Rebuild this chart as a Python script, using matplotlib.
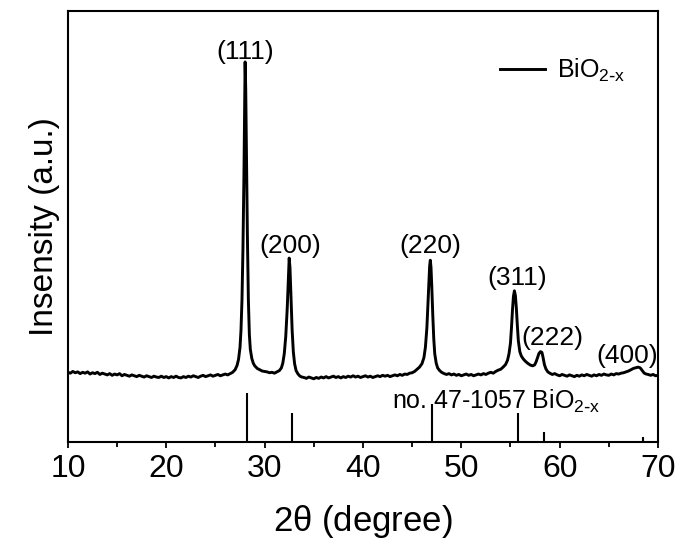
import matplotlib
matplotlib.use('Agg')
import matplotlib.pyplot as plt

# ------------------------- #
# Dados
# ------------------------- #

two_theta = [
    10.0, 10.25, 10.5, 10.75, 11.0, 11.25, 11.5, 11.75, 12.0, 12.25, 12.5, 12.75,
    13.0, 13.25, 13.5, 13.75, 14.0, 14.25, 14.5, 14.75, 15.0, 15.25, 15.5, 15.75,
    16.0, 16.25, 16.5, 16.75, 17.0, 17.25, 17.5, 17.75, 18.0, 18.25, 18.5, 18.75,
    19.0, 19.25, 19.5, 19.75, 20.0, 20.25, 20.5, 20.75, 21.0, 21.25, 21.5, 21.75,
    22.0, 22.25, 22.5, 22.75, 23.0, 23.25, 23.5, 23.75, 24.0, 24.25, 24.5, 24.75,
    25.0, 25.25, 25.5, 25.75, 26.0, 26.25, 26.5, 26.75,
    27.0, 27.2, 27.35, 27.5, 27.6, 27.7, 27.8, 27.9, 27.97, 28.02, 28.08, 28.15,
    28.25, 28.35, 28.45, 28.55, 28.7, 28.85, 29.0, 29.25, 29.5, 29.75, 30.0, 30.25,
    30.5, 30.75, 31.0, 31.25, 31.5, 31.7, 31.85, 32.0, 32.15, 32.3, 32.4, 32.5,
    32.58, 32.68, 32.8, 32.92, 33.05, 33.2, 33.4, 33.6, 33.8,
    34.0, 34.25, 34.5, 34.75, 35.0, 35.25, 35.5, 35.75, 36.0, 36.25, 36.5, 36.75,
    37.0, 37.25, 37.5, 37.75, 38.0, 38.25, 38.5, 38.75, 39.0, 39.25, 39.5, 39.75,
    40.0, 40.25, 40.5, 40.75, 41.0, 41.25, 41.5, 41.75, 42.0, 42.25, 42.5, 42.75,
    43.0, 43.25, 43.5, 43.75, 44.0, 44.25, 44.5, 44.75, 45.0, 45.25, 45.5,
    45.75, 46.0, 46.2, 46.35, 46.5, 46.6, 46.7, 46.78, 46.85, 46.92, 47.0, 47.1,
    47.2, 47.3, 47.45, 47.6, 47.8, 48.0, 48.25, 48.5, 48.75, 49.0, 49.25, 49.5,
    49.75, 50.0, 50.25, 50.5, 50.75, 51.0, 51.25, 51.5, 51.75, 52.0, 52.25, 52.5,
    52.75, 53.0, 53.25, 53.5, 53.75, 54.0, 54.25, 54.5, 54.7, 54.85, 55.0, 55.1,
    55.2, 55.3, 55.4, 55.5, 55.6, 55.7, 55.8, 55.95, 56.1, 56.3, 56.5, 56.75,
    57.0, 57.25, 57.45, 57.6, 57.75, 57.9, 58.05, 58.2, 58.3, 58.45, 58.6, 58.8,
    59.0, 59.25, 59.5, 59.75, 60.0, 60.25, 60.5, 60.75, 61.0, 61.25, 61.5, 61.75,
    62.0, 62.25, 62.5, 62.75, 63.0, 63.25, 63.5, 63.75, 64.0, 64.25, 64.5, 64.75,
    65.0, 65.25, 65.5, 65.75, 66.0, 66.25, 66.5, 66.75, 67.0, 67.25, 67.5, 67.8,
    68.0, 68.2, 68.4, 68.6, 68.8, 69.0, 69.25, 69.5, 69.75, 70.0,
]

intensity = [
    16.2, 16.0, 16.4, 16.1, 16.3, 15.9, 16.2, 16.0, 16.3, 15.8, 16.1, 15.9,
    16.2, 15.7, 16.0, 15.8, 15.6, 15.9, 15.5, 15.8, 15.6, 15.9, 15.4, 15.7,
    15.5, 15.3, 15.6, 15.4, 15.2, 15.5, 15.3, 15.1, 15.4, 15.2, 15.0, 15.3,
    15.1, 15.0, 15.3, 15.0, 15.2, 14.9, 15.2, 15.0, 15.3, 15.0, 14.9, 15.2,
    15.0, 15.3, 15.1, 15.4, 15.2, 15.0, 15.3, 15.5, 15.2, 15.4, 15.6, 15.3,
    15.5, 15.7, 15.4, 15.6, 15.8, 15.6, 15.9, 16.2,
    16.8, 17.8, 19.2, 22.0, 26.0, 33.0, 45.0, 62.0, 78.0, 88.2, 82.0, 68.0,
    48.0, 33.0, 25.0, 21.5, 19.4, 18.3, 17.7, 17.1, 16.8, 16.5, 16.4, 16.3,
    16.1, 16.2, 16.0, 16.3, 16.6, 17.2, 18.3, 20.5, 24.5, 31.0, 37.0, 42.7,
    40.5, 34.0, 26.0, 21.0, 18.2, 16.6, 15.8, 15.3, 15.1,
    15.0, 14.8, 15.1, 14.9, 14.7, 15.0, 14.8, 15.1, 14.9, 15.2, 14.9, 15.1,
    15.3, 15.0, 15.2, 14.9, 15.2, 15.0, 15.3, 15.1, 15.4, 15.1, 15.3, 15.0,
    15.2, 15.4, 15.1, 15.3, 15.0, 15.2, 15.4, 15.2, 15.5, 15.3, 15.5, 15.2,
    15.4, 15.6, 15.4, 15.7, 15.5, 15.8, 15.7, 16.0, 16.1, 16.4, 16.9,
    17.4, 18.2, 19.6, 22.0, 26.5, 31.5, 37.0, 40.8, 42.2, 40.5, 36.0, 29.5,
    24.0, 20.5, 18.3, 17.2, 16.6, 16.2, 15.9, 15.7, 15.9, 15.6, 15.8, 15.5,
    15.7, 15.4, 15.6, 15.8, 15.5, 15.7, 15.4, 15.6, 15.8, 15.6, 15.9, 15.7,
    16.0, 16.2, 16.0, 16.4, 16.7, 16.9, 17.4, 18.0, 19.0, 20.5, 23.0, 26.5,
    30.5, 33.8, 35.1, 34.0, 31.0, 27.0, 23.5, 21.0, 20.0, 19.3, 18.8, 18.3,
    17.9, 17.7, 17.9, 18.6, 19.6, 20.6, 21.0, 20.8, 19.8, 18.0, 17.0, 16.3,
    16.0, 15.7, 15.9, 15.6, 15.4, 15.7, 15.5, 15.3, 15.6, 15.4, 15.2, 15.5,
    15.3, 15.6, 15.4, 15.7, 15.5, 15.3, 15.6, 15.4, 15.7, 15.5, 15.8, 15.6,
    15.5, 15.8, 15.6, 15.9, 15.8, 16.0, 16.1, 16.3, 16.5, 16.8, 17.1, 17.3,
    17.4, 17.2, 16.6, 16.0, 15.8, 15.7, 15.5, 15.7, 15.4, 15.5,
]

# ficha padrão no. 47-1057
ref_pos = [28.25, 32.75, 47.06, 55.75, 58.45, 68.5]
ref_height = [11.3, 6.8, 8.8, 6.8, 2.4, 1.2]

peak_labels = ['(111)', '(200)', '(220)', '(311)', '(222)', '(400)']
label_x = [28.05, 32.6, 46.9, 55.7, 59.3, 66.9]
label_y = [87.6, 42.8, 42.8, 35.4, 21.4, 17.2]

# ------------------------- #
# Estilo
# ------------------------- #

plt.rcParams['font.family'] = ['Liberation Sans', 'DejaVu Sans']
plt.rcParams['mathtext.default'] = 'regular'

fig = plt.figure(figsize=(7, 5.52), dpi=100)
ax = fig.add_axes([0.097, 0.199, 0.843, 0.781])

ax.plot(two_theta, intensity, color='black', lw=2.1, label=r'BiO$_{2\text{-}x}$')
ax.vlines(ref_pos, 0, ref_height, color='black', lw=1.5)

for txt, xx, yy in zip(peak_labels, label_x, label_y):
    ax.text(xx, yy, txt, ha='center', va='bottom', fontsize=19)

ax.text(43.0, 7.7, r'no. 47-1057 BiO$_{2\text{-}x}$', ha='left', va='baseline',
        fontsize=18)

ax.legend(loc='center left', bbox_to_anchor=(0.733, 0.862), frameon=False,
          fontsize=18, handlelength=1.8, handletextpad=0.45,
          borderpad=0, borderaxespad=0)

ax.set_xlim(10, 70)
ax.set_ylim(0, 100)
ax.set_xticks(range(10, 71, 10))
ax.set_xticks(range(15, 70, 10), minor=True)
ax.set_yticks([])
ax.tick_params(axis='x', which='major', direction='out', length=4.5, width=1.3,
               labelsize=23, pad=4)
ax.tick_params(axis='x', which='minor', direction='out', length=3.5, width=1.3)
for sp in ax.spines.values():
    sp.set_linewidth(1.5)

ax.set_xlabel(r'2$\theta$ (degree)', fontsize=25, labelpad=14)
ax.set_ylabel('Insensity (a.u.)', fontsize=24, labelpad=6)

fig.savefig('out.png', dpi=100)
